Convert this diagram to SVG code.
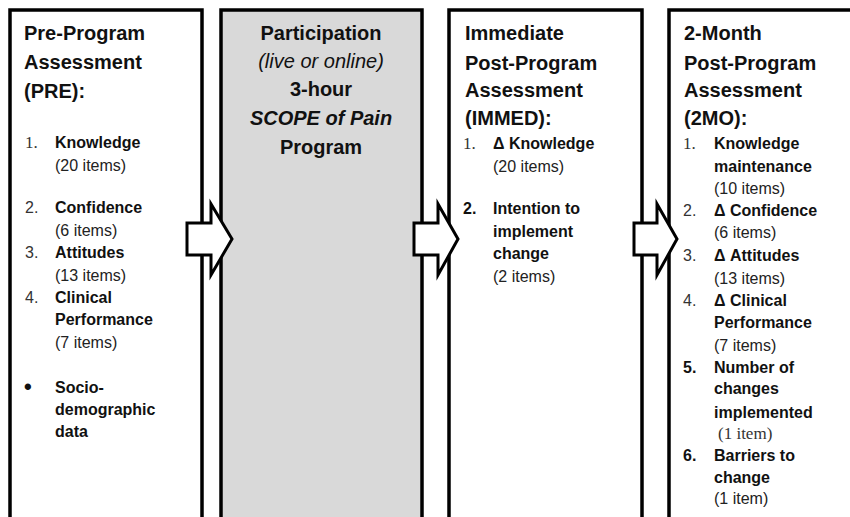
<svg xmlns="http://www.w3.org/2000/svg" width="850" height="517" viewBox="0 0 850 517">
<style>
.box{fill:#fff;stroke:#000;stroke-width:3.5}
.gray{fill:#d9d9d9}
.arrow{fill:#fff;stroke:#000;stroke-width:3;stroke-linejoin:miter}
text{font-family:"Liberation Sans",Arial,sans-serif;fill:#111}
.h{font-size:20px;font-weight:bold}
.b{font-size:16px;font-weight:bold}
.r{font-size:16px;fill:#222}
.n{font-size:16px;fill:#333}
.s{font-family:"Liberation Serif","Times New Roman",serif;font-size:17px;fill:#333}
.c{text-anchor:middle}
</style>
<g id="box-pre">
<rect class="box" x="10" y="10" width="192" height="520"/>
<text class="h" x="24" y="40">Pre-Program</text>
<text class="h" x="24" y="69">Assessment</text>
<text class="h" x="24" y="98">(PRE):</text>
<text class="s" x="25" y="148">1.</text>
<text class="b" x="55" y="148">Knowledge</text>
<text class="r" x="55" y="171">(20 items)</text>
<text class="n" x="25" y="213">2.</text>
<text class="b" x="55" y="213">Confidence</text>
<text class="r" x="55" y="236">(6 items)</text>
<text class="n" x="25" y="258">3.</text>
<text class="b" x="55" y="258">Attitudes</text>
<text class="r" x="55" y="281">(13 items)</text>
<text class="n" x="25" y="303">4.</text>
<text class="b" x="55" y="303">Clinical</text>
<text class="b" x="55" y="325">Performance</text>
<text class="r" x="55" y="348">(7 items)</text>
<text class="b" x="24" y="394" style="font-size:22px">•</text>
<text class="b" x="55" y="393">Socio-</text>
<text class="b" x="55" y="415">demographic</text>
<text class="b" x="55" y="437">data</text>
</g>
<g id="box-participation">
<rect class="box gray" x="221" y="10" width="201" height="520"/>
<text class="h c" x="321" y="40">Participation</text>
<text class="c" x="321" y="68" style="font-size:20px;font-style:italic">(live or online)</text>
<text class="h c" x="321" y="96">3-hour</text>
<text class="h c" x="321" y="125" style="font-style:italic">SCOPE of Pain</text>
<text class="h c" x="321" y="154">Program</text>
</g>
<g id="box-immed">
<rect class="box" x="449" y="10" width="193" height="520"/>
<text class="h" x="465" y="40">Immediate</text>
<text class="h" x="465" y="70">Post-Program</text>
<text class="h" x="465" y="97">Assessment</text>
<text class="h" x="465" y="125">(IMMED):</text>
<text class="s" x="463" y="149">1.</text>
<text class="b" x="493" y="149">Δ Knowledge</text>
<text class="r" x="493" y="172">(20 items)</text>
<text class="b" x="463" y="214">2.</text>
<text class="b" x="493" y="214">Intention to</text>
<text class="b" x="493" y="237">implement</text>
<text class="b" x="493" y="259">change</text>
<text class="r" x="493" y="282">(2 items)</text>
</g>
<g id="box-2mo">
<rect class="box" x="669" y="10" width="200" height="520"/>
<text class="h" x="684" y="40">2-Month</text>
<text class="h" x="684" y="70">Post-Program</text>
<text class="h" x="684" y="97">Assessment</text>
<text class="h" x="684" y="125">(2MO):</text>
<text class="s" x="683" y="149">1.</text>
<text class="b" x="714" y="149">Knowledge</text>
<text class="b" x="714" y="172">maintenance</text>
<text class="r" x="714" y="194">(10 items)</text>
<text class="n" x="683" y="216">2.</text>
<text class="b" x="714" y="216">Δ Confidence</text>
<text class="r" x="714" y="238">(6 items)</text>
<text class="n" x="683" y="261">3.</text>
<text class="b" x="714" y="261">Δ Attitudes</text>
<text class="r" x="714" y="284">(13 items)</text>
<text class="n" x="683" y="306">4.</text>
<text class="b" x="714" y="306">Δ Clinical</text>
<text class="b" x="714" y="328">Performance</text>
<text class="r" x="714" y="351">(7 items)</text>
<text class="b" x="683" y="373">5.</text>
<text class="b" x="714" y="373">Number of</text>
<text class="b" x="714" y="394">changes</text>
<text class="b" x="714" y="418">implemented</text>
<text class="s" x="718" y="439">(1 item)</text>
<text class="b" x="683" y="461">6.</text>
<text class="b" x="714" y="461">Barriers to</text>
<text class="b" x="714" y="483">change</text>
<text class="r" x="714" y="504">(1 item)</text>
</g>
<g id="connectors">
<polygon class="arrow" points="187,223 211,223 211,204 232,239 211,275 211,255 187,255"/>
<polygon class="arrow" points="414,223 438,223 438,204 458,239 438,275 438,255 414,255"/>
<polygon class="arrow" points="634,223 657,223 657,204 677,239 657,275 657,255 634,255"/>
</g>
</svg>
